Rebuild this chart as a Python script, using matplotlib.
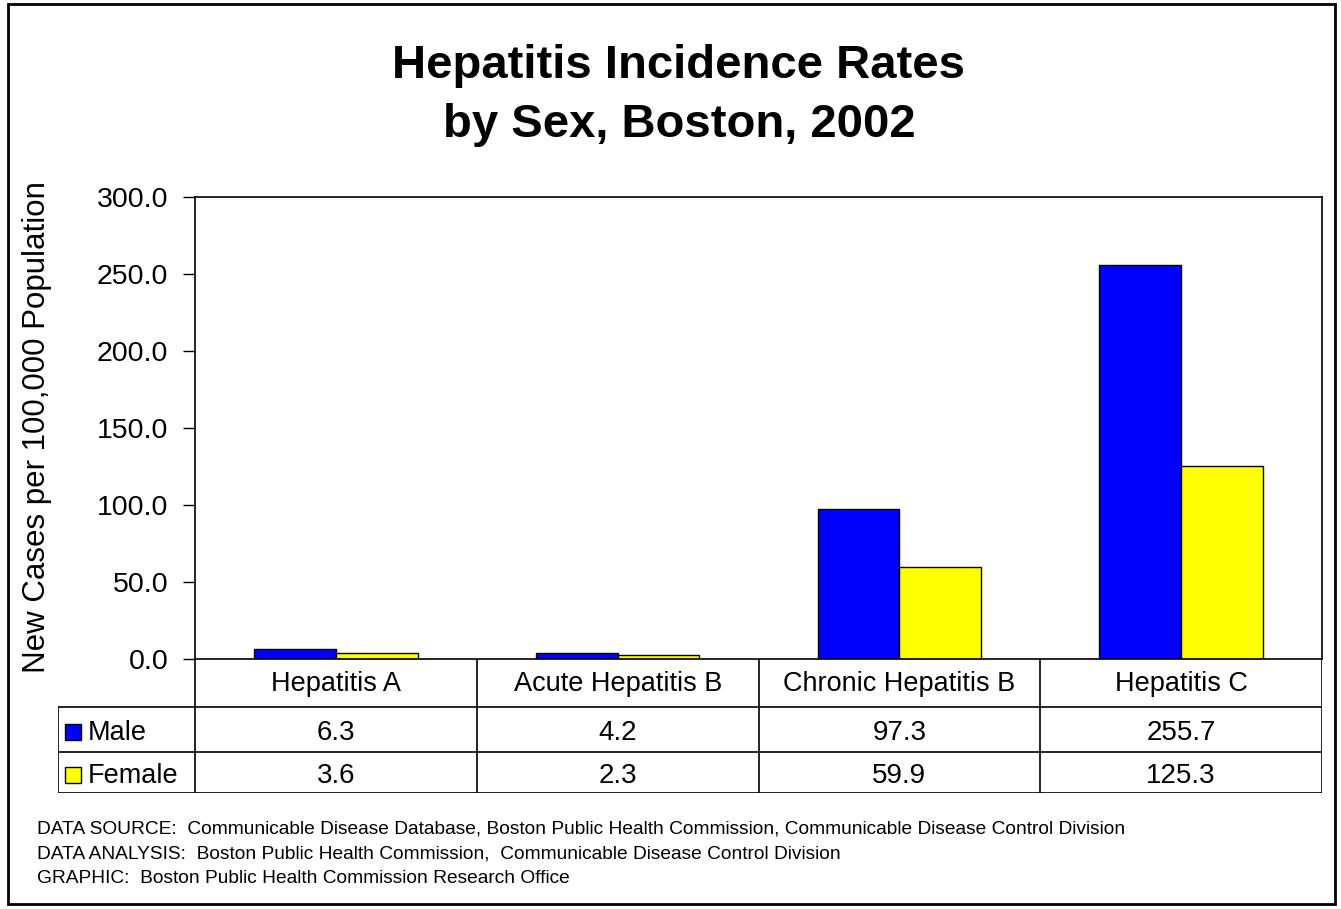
import matplotlib
matplotlib.use("Agg")
import matplotlib.pyplot as plt
from matplotlib.patches import Rectangle
from matplotlib.ticker import FuncFormatter

categories = ["Hepatitis A", "Acute Hepatitis B", "Chronic Hepatitis B", "Hepatitis C"]
male = [6.3, 4.2, 97.3, 255.7]
female = [3.6, 2.3, 59.9, 125.3]
series_names = ["Male", "Female"]
series_colors = ["#0000FF", "#FFFF00"]
yticks = [0, 50, 100, 150, 200, 250, 300]

title_lines = ["Hepatitis Incidence Rates", "by Sex, Boston, 2002"]
ylabel = "New Cases per 100,000 Population"
footer = [
    "DATA SOURCE:  Communicable Disease Database, Boston Public Health Commission, Communicable Disease Control Division",
    "DATA ANALYSIS:  Boston Public Health Commission,  Communicable Disease Control Division",
    "GRAPHIC:  Boston Public Health Commission Research Office",
]

plt.rcParams["font.family"] = ["Liberation Sans", "DejaVu Sans"]

W, H = 1341, 909
fig = plt.figure(figsize=(W / 100, H / 100), dpi=100)


def fx(px):
    return px / W


def fy(py):
    return 1 - py / H


# layout in pixels
plot_l, plot_r, plot_t, plot_b = 195, 1322, 197, 659
table_l, table_b = 58, 793
row_edges = [0, 48, 93, 134]  # offsets below the x axis

# outer frame
fig.patches.append(Rectangle((fx(8), fy(904)), fx(1335) - fx(8), fy(4) - fy(904),
                             transform=fig.transFigure, fill=False,
                             edgecolor="black", linewidth=2))

for line, base in zip(title_lines, [78, 137]):
    fig.text(fx(679), fy(base), line, ha="center", va="baseline",
             fontsize=34, fontweight="bold")

ax = fig.add_axes([fx(plot_l), fy(plot_b), fx(plot_r) - fx(plot_l), fy(plot_t) - fy(plot_b)])
x = list(range(len(categories)))
bw = 0.29
ax.bar([i - bw / 2 for i in x], male, width=bw, color=series_colors[0],
       edgecolor="black", linewidth=1)
ax.bar([i + bw / 2 for i in x], female, width=bw, color=series_colors[1],
       edgecolor="black", linewidth=1)
ax.set_xlim(-0.5, len(categories) - 0.5)
ax.set_ylim(0, 300)
ax.set_yticks(yticks)
ax.yaxis.set_major_formatter(FuncFormatter(lambda v, pos: f"{v:.1f}"))
ax.set_xticks([])
ax.tick_params(axis="y", length=8.6, width=1, pad=10.5, labelsize=20.5)
for s in ax.spines.values():
    s.set_linewidth(1.2)

fig.text(fx(37), fy(427), ylabel, rotation=90, ha="center", va="center", fontsize=22.5)

# data table under the plot
col_w = (plot_r - plot_l) / len(categories)
left_edge = -0.5 - (plot_l - table_l) / col_w
axt = fig.add_axes([fx(table_l), fy(table_b), fx(plot_r) - fx(table_l), fy(plot_b) - fy(table_b)])
axt.set_xlim(left_edge, len(categories) - 0.5)
axt.set_ylim(row_edges[-1], 0)
axt.axis("off")
axt.hlines(row_edges[1:], left_edge, len(categories) - 0.5, color="black", linewidth=1.2)
axt.vlines([left_edge], row_edges[1], row_edges[-1], color="black", linewidth=1.2)
axt.vlines([i - 0.5 for i in range(len(categories) + 1)], 0, row_edges[-1],
           color="black", linewidth=1.2)

mid = lambda r: (row_edges[r] + row_edges[r + 1]) / 2
for i, cat in enumerate(categories):
    axt.text(i, mid(0) + 1, cat, ha="center", va="center", fontsize=19.5)
for r, (vals, name, col) in enumerate(zip([male, female], series_names, series_colors), start=1):
    ty = mid(r) + 3.5
    axt.plot([left_edge + 15 / col_w], [ty - 1], marker="s", markersize=11.5,
             markerfacecolor=col, markeredgecolor="black", markeredgewidth=1, clip_on=False)
    axt.text(left_edge + 30 / col_w, ty, name, ha="left", va="center", fontsize=19.5)
    for i, v in enumerate(vals):
        axt.text(i, ty, f"{v:.1f}", ha="center", va="center", fontsize=20)

for k, line in enumerate(footer):
    fig.text(fx(37), fy(834 + 24.5 * k), line, ha="left", va="baseline", fontsize=13.8)

fig.savefig("out.png", dpi=100)
